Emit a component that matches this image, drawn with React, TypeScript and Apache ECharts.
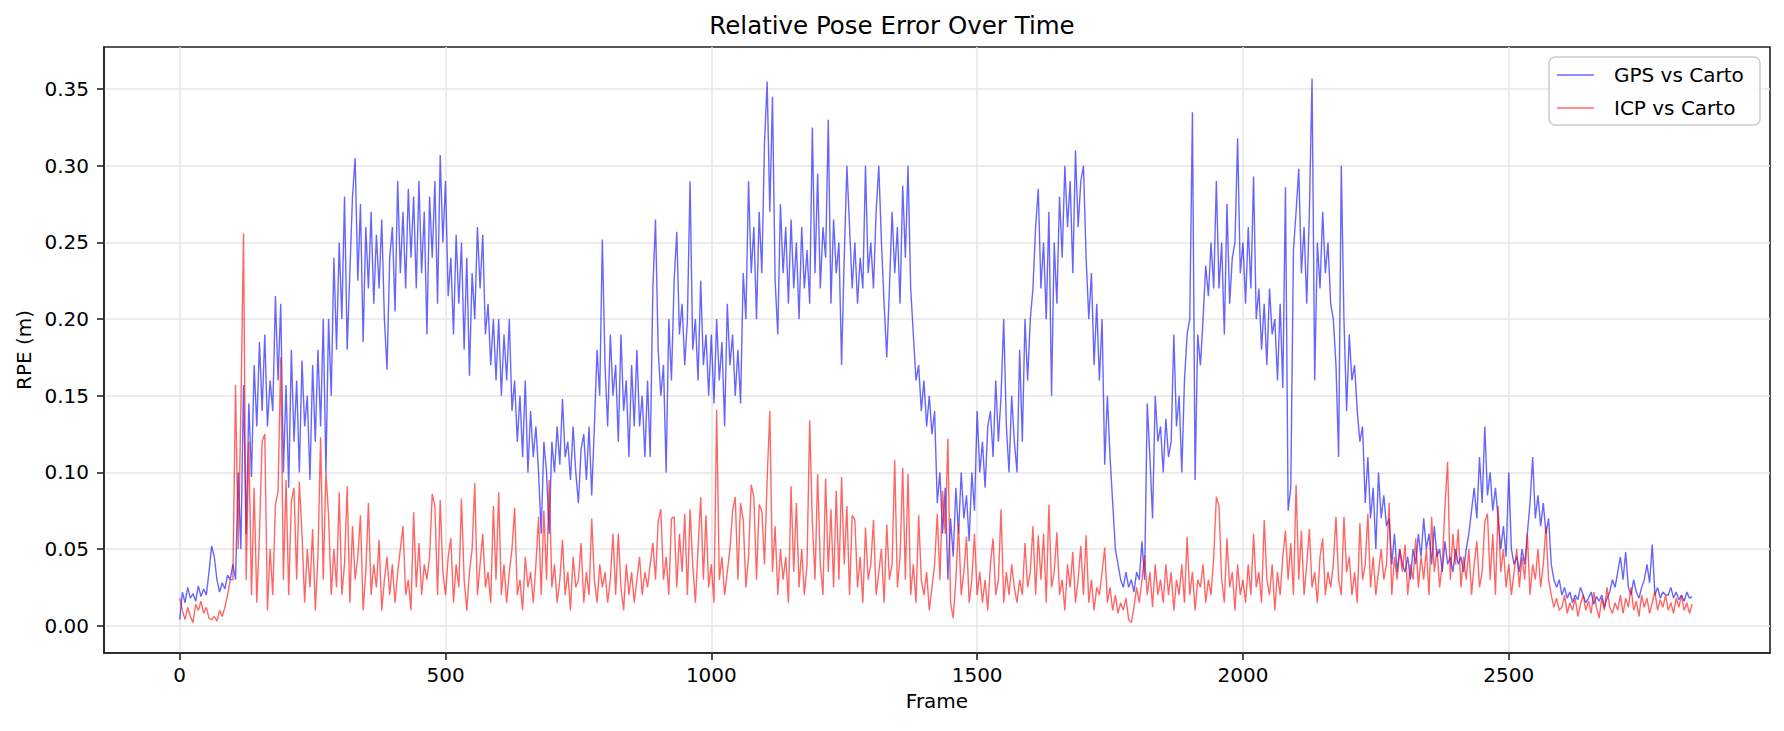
import { useEffect, useRef } from "react";
import * as echarts from "echarts";

// RPE samples, one value every FRAME_STEP frames.
const FRAME_STEP = 5;

const gpsVsCarto = [
  0.004, 0.022, 0.015, 0.025, 0.018, 0.021, 0.016, 0.026, 0.019, 0.024, 0.02, 0.035, 0.052, 0.045, 0.03, 0.022, 0.028, 0.024, 0.033, 0.03,
  0.04, 0.03, 0.1, 0.05, 0.157, 0.06, 0.145, 0.097, 0.17, 0.13, 0.185, 0.14, 0.19, 0.13, 0.16, 0.14, 0.215, 0.16, 0.21, 0.1,
  0.157, 0.09, 0.18, 0.12, 0.16, 0.1, 0.173, 0.13, 0.15, 0.095, 0.17, 0.12, 0.18, 0.13, 0.2, 0.1, 0.2, 0.15, 0.24, 0.18,
  0.25, 0.2, 0.28, 0.18, 0.23, 0.28, 0.305, 0.225, 0.275, 0.185, 0.26, 0.22, 0.27, 0.21, 0.255, 0.22, 0.265, 0.2, 0.167, 0.24,
  0.26, 0.205, 0.29, 0.23, 0.27, 0.22, 0.285, 0.24, 0.28, 0.22, 0.29, 0.23, 0.27, 0.19, 0.28, 0.24, 0.29, 0.21, 0.307, 0.25,
  0.29, 0.215, 0.24, 0.19, 0.255, 0.21, 0.25, 0.18, 0.24, 0.163, 0.23, 0.2, 0.26, 0.22, 0.255, 0.19, 0.21, 0.17, 0.2, 0.16,
  0.2, 0.15, 0.19, 0.16, 0.2, 0.14, 0.16, 0.12, 0.15, 0.11, 0.16, 0.1, 0.14, 0.11, 0.13, 0.1, 0.06, 0.12, 0.1, 0.06,
  0.12, 0.1, 0.13, 0.105, 0.148, 0.11, 0.12, 0.095, 0.13, 0.1, 0.08, 0.115, 0.125, 0.095, 0.13, 0.085, 0.13, 0.18, 0.15, 0.252,
  0.17, 0.13, 0.19, 0.15, 0.17, 0.12, 0.19, 0.14, 0.16, 0.11, 0.17, 0.13, 0.18, 0.13, 0.15, 0.11, 0.16, 0.11, 0.22, 0.265,
  0.18, 0.15, 0.17, 0.1, 0.2, 0.16, 0.225, 0.257, 0.19, 0.21, 0.17, 0.2, 0.29, 0.18, 0.2, 0.16, 0.225, 0.17, 0.19, 0.15,
  0.19, 0.145, 0.2, 0.16, 0.185, 0.13, 0.21, 0.17, 0.19, 0.15, 0.18, 0.145, 0.23, 0.2, 0.29, 0.23, 0.26, 0.2, 0.27, 0.23,
  0.315, 0.355, 0.27, 0.345, 0.225, 0.19, 0.275, 0.23, 0.26, 0.21, 0.265, 0.22, 0.25, 0.2, 0.26, 0.22, 0.245, 0.21, 0.325, 0.23,
  0.295, 0.22, 0.26, 0.24, 0.33, 0.21, 0.265, 0.23, 0.25, 0.17, 0.24, 0.3, 0.26, 0.22, 0.25, 0.21, 0.24, 0.22, 0.3, 0.23,
  0.25, 0.22, 0.27, 0.3, 0.25, 0.21, 0.175, 0.22, 0.27, 0.23, 0.26, 0.21, 0.287, 0.24, 0.3, 0.22, 0.19, 0.16, 0.17, 0.14,
  0.16, 0.13, 0.15, 0.125, 0.14, 0.08, 0.1, 0.06, 0.09, 0.03, 0.07, 0.045, 0.09, 0.06, 0.1, 0.07, 0.085, 0.055, 0.1, 0.075,
  0.14, 0.1, 0.12, 0.09, 0.13, 0.14, 0.11, 0.16, 0.12, 0.15, 0.2, 0.13, 0.1, 0.15, 0.12, 0.1, 0.18, 0.12, 0.2, 0.16,
  0.2, 0.22, 0.26, 0.285, 0.22, 0.25, 0.2, 0.27, 0.15, 0.25, 0.21, 0.28, 0.24, 0.3, 0.26, 0.29, 0.23, 0.31, 0.26, 0.29,
  0.3, 0.24, 0.2, 0.23, 0.17, 0.21, 0.16, 0.2, 0.105, 0.15, 0.11, 0.08, 0.05, 0.04, 0.03, 0.025, 0.035, 0.025, 0.03, 0.022,
  0.035, 0.03, 0.055, 0.03, 0.145, 0.11, 0.07, 0.15, 0.12, 0.13, 0.1, 0.135, 0.11, 0.12, 0.19, 0.13, 0.15, 0.1, 0.16, 0.19,
  0.2, 0.335, 0.095, 0.19, 0.17, 0.2, 0.235, 0.215, 0.25, 0.22, 0.29, 0.22, 0.25, 0.19, 0.275, 0.21, 0.24, 0.25, 0.318, 0.23,
  0.25, 0.21, 0.26, 0.22, 0.293, 0.2, 0.22, 0.18, 0.21, 0.17, 0.22, 0.19, 0.2, 0.16, 0.21, 0.155, 0.286, 0.075, 0.09, 0.245,
  0.27, 0.298, 0.23, 0.26, 0.21, 0.27, 0.357, 0.16, 0.25, 0.22, 0.27, 0.23, 0.25, 0.21, 0.2, 0.17, 0.11, 0.3, 0.2, 0.14,
  0.19, 0.16, 0.17, 0.14, 0.12, 0.13, 0.08, 0.11, 0.07, 0.09, 0.05, 0.1, 0.07, 0.085, 0.065, 0.07, 0.04, 0.06, 0.035, 0.05,
  0.04, 0.035, 0.045, 0.03, 0.05, 0.04, 0.06, 0.045, 0.07, 0.05, 0.06, 0.04, 0.065, 0.045, 0.05, 0.035, 0.055, 0.04, 0.045, 0.035,
  0.05, 0.04, 0.045, 0.035, 0.05, 0.06, 0.075, 0.09, 0.07, 0.11, 0.08, 0.13, 0.085, 0.1, 0.075, 0.09, 0.07, 0.05, 0.065, 0.045,
  0.1, 0.05, 0.04, 0.045, 0.035, 0.05, 0.04, 0.06, 0.08, 0.11, 0.07, 0.085, 0.065, 0.08, 0.06, 0.07, 0.04, 0.03, 0.025, 0.03,
  0.02, 0.025, 0.018, 0.022, 0.015, 0.02, 0.017, 0.025, 0.02, 0.015, 0.018, 0.022, 0.014, 0.019, 0.016, 0.02, 0.012, 0.018, 0.022, 0.03,
  0.025, 0.035, 0.045, 0.03, 0.048, 0.025, 0.02, 0.03, 0.022, 0.018, 0.025, 0.03, 0.04, 0.028, 0.053, 0.02, 0.025, 0.018, 0.022, 0.02,
  0.02, 0.025, 0.018, 0.022, 0.017, 0.02, 0.016, 0.022, 0.018, 0.019,
];

const icpVsCarto = [
  0.018, 0.01, 0.004, 0.012, 0.006, 0.002, 0.014, 0.01, 0.016, 0.008, 0.012, 0.005, 0.004, 0.006, 0.003, 0.01, 0.006, 0.012, 0.02, 0.03,
  0.03, 0.157, 0.05, 0.14, 0.256, 0.03, 0.12, 0.02, 0.09, 0.015, 0.06, 0.12, 0.125, 0.01, 0.05, 0.02, 0.079, 0.088, 0.175, 0.03,
  0.095, 0.02, 0.081, 0.09, 0.03, 0.094, 0.06, 0.015, 0.05, 0.025, 0.063, 0.01, 0.045, 0.123, 0.03, 0.1, 0.072, 0.02, 0.05, 0.025,
  0.087, 0.02, 0.04, 0.091, 0.015, 0.065, 0.03, 0.045, 0.072, 0.01, 0.035, 0.08, 0.02, 0.04, 0.025, 0.056, 0.01, 0.03, 0.045, 0.02,
  0.04, 0.015, 0.035, 0.05, 0.065, 0.02, 0.03, 0.01, 0.074, 0.025, 0.054, 0.02, 0.04, 0.03, 0.045, 0.086, 0.078, 0.02, 0.082, 0.035,
  0.02, 0.045, 0.057, 0.015, 0.04, 0.025, 0.083, 0.03, 0.01, 0.035, 0.05, 0.093, 0.02, 0.04, 0.06, 0.025, 0.035, 0.015, 0.078, 0.03,
  0.087, 0.02, 0.04, 0.015, 0.035, 0.05, 0.077, 0.02, 0.03, 0.01, 0.045, 0.025, 0.035, 0.015, 0.04, 0.071, 0.02, 0.075, 0.03, 0.095,
  0.025, 0.04, 0.015, 0.03, 0.056, 0.02, 0.035, 0.01, 0.045, 0.025, 0.03, 0.054, 0.015, 0.035, 0.02, 0.07, 0.03, 0.015, 0.04, 0.025,
  0.035, 0.015, 0.03, 0.06, 0.02, 0.06, 0.025, 0.01, 0.04, 0.02, 0.035, 0.015, 0.03, 0.045, 0.02, 0.035, 0.025, 0.04, 0.054, 0.03,
  0.068, 0.076, 0.03, 0.045, 0.02, 0.07, 0.071, 0.025, 0.06, 0.035, 0.073, 0.02, 0.076, 0.04, 0.015, 0.05, 0.084, 0.03, 0.072, 0.025,
  0.04, 0.015, 0.141, 0.03, 0.045, 0.02, 0.035, 0.05, 0.075, 0.084, 0.03, 0.08, 0.069, 0.025, 0.045, 0.092, 0.084, 0.03, 0.079, 0.075,
  0.04, 0.095, 0.14, 0.035, 0.065, 0.02, 0.05, 0.03, 0.045, 0.015, 0.091, 0.035, 0.08, 0.025, 0.05, 0.02, 0.04, 0.134, 0.068, 0.03,
  0.099, 0.04, 0.02, 0.096, 0.035, 0.076, 0.025, 0.088, 0.03, 0.097, 0.04, 0.078, 0.02, 0.072, 0.069, 0.025, 0.045, 0.015, 0.064, 0.03,
  0.04, 0.069, 0.02, 0.035, 0.05, 0.015, 0.066, 0.03, 0.04, 0.108, 0.025, 0.045, 0.103, 0.03, 0.099, 0.02, 0.04, 0.015, 0.072, 0.03,
  0.02, 0.035, 0.01, 0.025, 0.04, 0.073, 0.03, 0.088, 0.06, 0.122, 0.015, 0.005, 0.03, 0.067, 0.02, 0.035, 0.058, 0.015, 0.03, 0.06,
  0.02, 0.035, 0.015, 0.03, 0.01, 0.04, 0.057, 0.02, 0.03, 0.076, 0.015, 0.035, 0.02, 0.04, 0.025, 0.015, 0.03, 0.02, 0.054, 0.025,
  0.035, 0.065, 0.02, 0.059, 0.03, 0.06, 0.015, 0.079, 0.025, 0.035, 0.061, 0.02, 0.03, 0.01, 0.04, 0.025, 0.048, 0.015, 0.03, 0.052,
  0.02, 0.059, 0.015, 0.03, 0.01, 0.025, 0.02, 0.035, 0.051, 0.015, 0.025, 0.01, 0.02, 0.008, 0.015, 0.01, 0.018, 0.004, 0.002, 0.012,
  0.025, 0.015, 0.03, 0.046, 0.02, 0.035, 0.012, 0.04, 0.02, 0.03, 0.015, 0.04, 0.02, 0.035, 0.01, 0.03, 0.02, 0.04, 0.015, 0.058,
  0.02, 0.035, 0.01, 0.03, 0.025, 0.04, 0.015, 0.03, 0.02, 0.045, 0.084, 0.078, 0.03, 0.015, 0.057, 0.025, 0.035, 0.01, 0.04, 0.02,
  0.03, 0.015, 0.04, 0.02, 0.06, 0.025, 0.035, 0.015, 0.069, 0.03, 0.02, 0.04, 0.01, 0.035, 0.02, 0.045, 0.062, 0.03, 0.054, 0.02,
  0.092, 0.03, 0.062, 0.02, 0.04, 0.063, 0.025, 0.035, 0.015, 0.045, 0.057, 0.02, 0.035, 0.025, 0.04, 0.071, 0.03, 0.02, 0.071, 0.035,
  0.045, 0.02, 0.035, 0.015, 0.067, 0.03, 0.04, 0.073, 0.025, 0.045, 0.02, 0.035, 0.05, 0.03, 0.04, 0.08, 0.02, 0.045, 0.03, 0.05,
  0.035, 0.053, 0.02, 0.04, 0.03, 0.057, 0.025, 0.045, 0.03, 0.05, 0.02, 0.071, 0.035, 0.05, 0.025, 0.04, 0.078, 0.107, 0.03, 0.06,
  0.04, 0.063, 0.025, 0.045, 0.03, 0.05, 0.02, 0.04, 0.055, 0.025, 0.035, 0.068, 0.073, 0.03, 0.06, 0.02, 0.078, 0.035, 0.05, 0.025,
  0.04, 0.02, 0.035, 0.05, 0.025, 0.045, 0.03, 0.06, 0.02, 0.04, 0.03, 0.05, 0.025, 0.04, 0.065, 0.03, 0.02, 0.012, 0.018, 0.01,
  0.012, 0.02, 0.008, 0.015, 0.01, 0.018, 0.006, 0.014, 0.02, 0.01, 0.016, 0.008, 0.022, 0.012, 0.005, 0.018, 0.01, 0.025, 0.012, 0.008,
  0.015, 0.01, 0.02, 0.008, 0.018, 0.012, 0.025, 0.01, 0.016, 0.006, 0.02, 0.012, 0.018, 0.008, 0.015, 0.022, 0.01, 0.017, 0.012, 0.02,
  0.01, 0.015, 0.008, 0.018, 0.012, 0.02, 0.01, 0.015, 0.008, 0.014,
];

const xTicks = [0, 500, 1000, 1500, 2000, 2500];
const yTicks = [0, 0.05, 0.1, 0.15, 0.2, 0.25, 0.3, 0.35];

const FONT = "DejaVu Sans";
const INK = "#222";

const toPairs = (values: number[]) => values.map((v, i) => [i * FRAME_STEP, v]);

export default function App() {
  const ref = useRef<HTMLDivElement | null>(null);

  useEffect(() => {
    if (!ref.current) return;
    const chart = echarts.init(ref.current, undefined, { renderer: "svg" });

    chart.setOption({
      animation: false,
      backgroundColor: "#fff",
      title: {
        text: "Relative Pose Error Over Time",
        left: "center",
        top: 8,
        textStyle: { fontFamily: FONT, fontSize: 24.5, fontWeight: "normal", color: "#000" },
      },
      grid: {
        left: 104,
        right: 14,
        top: 47,
        bottom: 78,
        show: true,
        borderColor: INK,
        borderWidth: 1.6,
        outerBoundsMode: "none",
      },
      xAxis: {
        type: "value",
        min: -142.45,
        max: 2991.45,
        minInterval: 500,
        maxInterval: 500,
        name: "Frame",
        nameLocation: "middle",
        nameGap: 38,
        nameTextStyle: { fontFamily: FONT, fontSize: 20, color: "#000" },
        axisLine: { show: true, onZero: false, lineStyle: { color: INK, width: 1.6 } },
        axisTick: { show: true, length: 7, customValues: xTicks, lineStyle: { color: INK, width: 1.6 } },
        axisLabel: {
          customValues: xTicks,
          margin: 12,
          fontFamily: FONT,
          fontSize: 20,
          color: "#000",
          showMinLabel: true,
          showMaxLabel: true,
          formatter: (v: number) => String(v),
        },
        splitLine: { show: true, lineStyle: { color: "#e6e6e6", width: 1.5 } },
      },
      yAxis: {
        type: "value",
        min: -0.0178,
        max: 0.3775,
        minInterval: 0.05,
        maxInterval: 0.05,
        name: "RPE (m)",
        nameLocation: "middle",
        nameGap: 70,
        nameRotate: 90,
        nameTextStyle: { fontFamily: FONT, fontSize: 20, color: "#000" },
        axisLine: { show: true, onZero: false, lineStyle: { color: INK, width: 1.6 } },
        axisTick: { show: true, length: 7, customValues: yTicks, lineStyle: { color: INK, width: 1.6 } },
        axisLabel: {
          customValues: yTicks,
          margin: 15,
          fontFamily: FONT,
          fontSize: 20,
          color: "#000",
          showMinLabel: true,
          showMaxLabel: true,
          formatter: (v: number) => v.toFixed(2),
        },
        splitLine: { show: true, lineStyle: { color: "#e6e6e6", width: 1.5 } },
      },
      series: [
        {
          name: "GPS vs Carto",
          type: "line",
          data: toPairs(gpsVsCarto),
          symbol: "none",
          showSymbol: false,
          silent: true,
          lineStyle: { color: "#0000ff", width: 1.4, opacity: 0.6 },
        },
        {
          name: "ICP vs Carto",
          type: "line",
          data: toPairs(icpVsCarto),
          symbol: "none",
          showSymbol: false,
          silent: true,
          lineStyle: { color: "#ff0000", width: 1.4, opacity: 0.6 },
        },
      ],
      graphic: [
        {
          type: "rect",
          shape: { x: 1549, y: 57, width: 211, height: 68, r: 6 },
          style: { fill: "rgba(255,255,255,0.8)", stroke: "#cccccc", lineWidth: 1.5 },
          z: 100,
        },
        {
          type: "line",
          shape: { x1: 1557, y1: 75, x2: 1594, y2: 75 },
          style: { stroke: "#0000ff", opacity: 0.6, lineWidth: 1.6 },
          z: 101,
        },
        {
          type: "text",
          x: 1614,
          y: 75,
          style: { text: "GPS vs Carto", font: `20px '${FONT}'`, fill: "#000", verticalAlign: "middle" },
          z: 101,
        },
        {
          type: "line",
          shape: { x1: 1557, y1: 108, x2: 1594, y2: 108 },
          style: { stroke: "#ff0000", opacity: 0.6, lineWidth: 1.6 },
          z: 101,
        },
        {
          type: "text",
          x: 1614,
          y: 108,
          style: { text: "ICP vs Carto", font: `20px '${FONT}'`, fill: "#000", verticalAlign: "middle" },
          z: 101,
        },
      ],
    });

    return () => chart.dispose();
  }, []);

  return (
    <div
      ref={ref}
      style={{ position: "fixed", left: 0, top: 0, width: 1784, height: 731, background: "#fff" }}
    />
  );
}
